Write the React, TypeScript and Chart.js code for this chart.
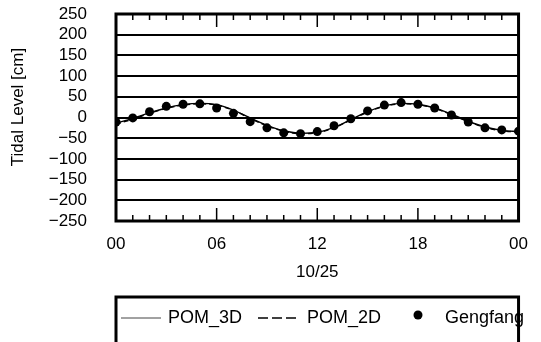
import React, { useEffect, useRef } from "react";
import { Chart, registerables } from "chart.js";

Chart.register(...registerables);

// ---- data ----
const hours = [0, 1, 2, 3, 4, 5, 6, 7, 8, 9, 10, 11, 12, 13, 14, 15, 16, 17, 18, 19, 20, 21, 22, 23, 24];
const pom3d = [-14, -2, 11, 23, 31, 34, 31, 18, -1, -19, -32, -38, -36, -24, -5, 14, 28, 34, 32, 23, 8, -9, -23, -31, -34];
const pom2d = [-16, -4, 10, 22, 30, 33, 30, 17, -2, -20, -33, -39, -37, -25, -6, 13, 27, 33, 31, 22, 7, -10, -24, -32, -35];
const gengfang = [-11, -1, 14, 27, 32, 33, 23, 10, -10, -25, -37, -39, -34, -20, -3, 16, 30, 36, 32, 23, 6, -11, -25, -30, -33];

const xTickLabels = ["00", "06", "12", "18", "00"];
const yTickLabels = ["\u2212250", "\u2212200", "\u2212150", "\u2212100", "\u221250", "0", "50", "100", "150", "200", "250"];
const xAxisTitle = "10/25";
const yAxisTitle = "Tidal Level [cm]";
const legendLabels = ["POM_3D", "POM_2D", "Gengfang"];

const FONT = "'Liberation Sans', Arial, Helvetica, sans-serif";

const framePlugin = {
  id: "frame",
  afterDraw(chart: any) {
    const { ctx, chartArea: a, scales } = chart;
    const xs = scales.x;
    ctx.save();
    ctx.strokeStyle = "#000";
    ctx.fillStyle = "#000";
    // hourly tick marks, inward, top and bottom
    ctx.lineWidth = 1.5;
    for (let h = 0; h <= 24; h++) {
      const x = xs.getPixelForValue(h);
      const len = h % 6 === 0 ? 13 : 6;
      ctx.beginPath();
      ctx.moveTo(x, a.bottom);
      ctx.lineTo(x, a.bottom - len);
      ctx.moveTo(x, a.top);
      ctx.lineTo(x, a.top + len);
      ctx.stroke();
    }
    // plot frame
    ctx.lineWidth = 3;
    ctx.strokeRect(a.left, a.top, a.right - a.left, a.bottom - a.top);

    // y axis title
    ctx.save();
    ctx.translate(18, 107);
    ctx.rotate(-Math.PI / 2);
    ctx.font = `17px ${FONT}`;
    ctx.textAlign = "center";
    ctx.textBaseline = "middle";
    ctx.fillText(yAxisTitle, 0, 0);
    ctx.restore();

    // legend
    const ly = 318;
    ctx.font = `18px ${FONT}`;
    ctx.textAlign = "left";
    ctx.textBaseline = "middle";
    ctx.lineWidth = 1;
    ctx.strokeStyle = "#444";
    ctx.beginPath();
    ctx.moveTo(121, ly);
    ctx.lineTo(161, ly);
    ctx.stroke();
    ctx.fillText(legendLabels[0], 168, ly);
    ctx.strokeStyle = "#000";
    ctx.lineWidth = 1.3;
    ctx.setLineDash([10, 4]);
    ctx.beginPath();
    ctx.moveTo(258, ly);
    ctx.lineTo(297, ly);
    ctx.stroke();
    ctx.setLineDash([]);
    ctx.fillText(legendLabels[1], 307, ly);
    ctx.beginPath();
    ctx.arc(418, ly - 3, 4.5, 0, Math.PI * 2);
    ctx.fill();
    ctx.fillText(legendLabels[2], 445, ly);
    ctx.lineWidth = 3;
    ctx.strokeRect(a.left, 297, a.right - a.left, 100);
    ctx.restore();
  },
};

export default function App() {
  const ref = useRef<HTMLCanvasElement | null>(null);

  useEffect(() => {
    const canvas = ref.current;
    if (!canvas) return;
    const chart = new Chart(canvas, {
      type: "line",
      data: {
        labels: hours,
        datasets: [
          {
            label: legendLabels[0],
            data: hours.map((h, i) => ({ x: h, y: pom3d[i] })),
            borderColor: "#000",
            borderWidth: 1.4,
            pointRadius: 0,
            tension: 0.4,
            cubicInterpolationMode: "monotone",
          },
          {
            label: legendLabels[1],
            data: hours.map((h, i) => ({ x: h, y: pom2d[i] })),
            borderColor: "#000",
            borderWidth: 1.4,
            borderDash: [5, 3],
            pointRadius: 0,
            tension: 0.4,
            cubicInterpolationMode: "monotone",
          },
          {
            label: legendLabels[2],
            data: hours.map((h, i) => ({ x: h, y: gengfang[i] })),
            showLine: false,
            pointRadius: 4.5,
            pointBackgroundColor: "#000",
            pointBorderColor: "#000",
            pointBorderWidth: 0,
            clip: 0,
          } as any,
        ],
      },
      options: {
        responsive: false,
        animation: false,
        devicePixelRatio: 1,
        layout: { padding: { left: 0, right: 13, top: 14, bottom: 0 } },
        plugins: {
          legend: { display: false },
          tooltip: { enabled: false },
        },
        scales: {
          x: {
            type: "linear",
            min: 0,
            max: 24,
            afterFit: (s: any) => {
              s.height = 121;
            },
            ticks: {
              stepSize: 6,
              padding: 13,
              color: "#000",
              font: { family: FONT, size: 17 },
              callback: (_v: any, i: number) => xTickLabels[i],
              maxRotation: 0,
              autoSkip: false,
            },
            grid: { display: false, drawTicks: false },
            border: { display: false },
            title: {
              display: true,
              text: xAxisTitle,
              color: "#000",
              font: { family: FONT, size: 17 },
              padding: { top: 0, bottom: 59 },
            },
          },
          y: {
            type: "linear",
            min: -250,
            max: 250,
            afterFit: (s: any) => {
              s.width = 116;
              s.paddingTop = 0;
              s.paddingBottom = 0;
            },
            ticks: {
              stepSize: 50,
              padding: 29,
              color: "#000",
              autoSkip: false,
              font: { family: FONT, size: 17 },
              callback: (_v: any, i: number) => yTickLabels[i],
            },
            grid: { color: "#000", lineWidth: 2, drawTicks: false },
            border: { display: false },
          },
        },
      },
      plugins: [framePlugin],
    });
    return () => chart.destroy();
  }, []);

  return (
    <div style={{ position: "fixed", left: 0, top: 0, width: 541, height: 342, background: "#fff" }}>
      <canvas ref={ref} width={541} height={342} style={{ display: "block", width: 541, height: 342 }} />
    </div>
  );
}
